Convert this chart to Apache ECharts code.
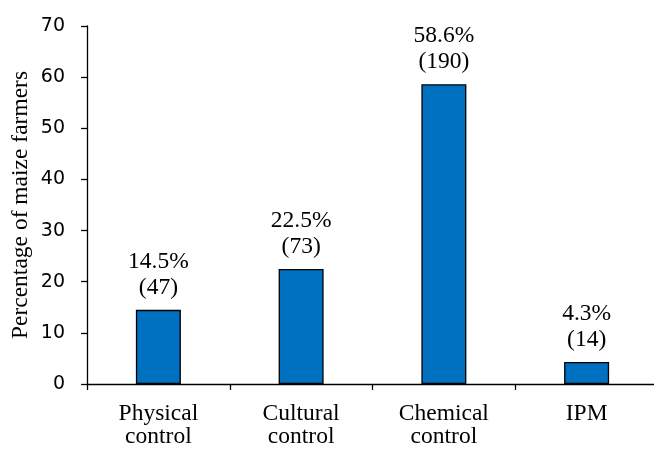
<!DOCTYPE html>
<html>
<head>
<meta charset="utf-8">
<script src="https://cdn.jsdelivr.net/npm/echarts@6/dist/echarts.min.js"></script>
<style>
  html, body { margin: 0; padding: 0; background: #fff; }
  #chart { width: 654px; height: 449px; }
</style>
</head>
<body>
<div id="chart"></div>
<script>
const categories = ['Physical\ncontrol', 'Cultural\ncontrol', 'Chemical\ncontrol', 'IPM']
const percentages = [14.5, 22.5, 58.6, 4.3]
const counts = [47, 73, 190, 14]
const yTicks = { min: 0, max: 70, interval: 10 }

const serif = '"Liberation Serif", "Times New Roman", serif'
const sans = '"DejaVu Sans", sans-serif'

const chart = echarts.init(document.getElementById('chart'), null, { renderer: 'canvas' })

chart.setOption({
  animation: false,
  grid: { left: 87, top: 26, bottom: 65, width: 571, outerBoundsMode: 'none', containLabel: false },
  xAxis: {
    type: 'category',
    data: categories,
    axisLine: { lineStyle: { color: '#000', width: 1.3 } },
    axisTick: { show: true, alignWithLabel: false, length: 6, lineStyle: { color: '#000', width: 1.3 } },
    axisLabel: {
      color: '#000',
      fontFamily: serif,
      fontSize: 23.5,
      lineHeight: 23,
      margin: 18,
      interval: 0
    }
  },
  yAxis: {
    type: 'value',
    min: yTicks.min,
    max: yTicks.max,
    interval: yTicks.interval,
    name: 'Percentage of maize farmers',
    nameLocation: 'middle',
    nameGap: 54,
    nameMoveOverlap: false,
    nameTextStyle: { color: '#000', fontFamily: serif, fontSize: 23.5 },
    axisLine: { show: true, lineStyle: { color: '#000', width: 1.3 } },
    axisTick: { show: true, length: 6, lineStyle: { color: '#000', width: 1.3 } },
    splitLine: { show: false },
    axisLabel: { color: '#000', fontFamily: sans, fontSize: 19, margin: 22 }
  },
  series: [{
    type: 'bar',
    data: percentages,
    barWidth: 45,
    itemStyle: { color: '#0070C0', borderColor: '#000', borderWidth: 1.3 },
    label: {
      show: true,
      position: 'top',
      distance: 9,
      color: '#000',
      fontFamily: serif,
      fontSize: 23.5,
      lineHeight: 26,
      formatter: p => percentages[p.dataIndex].toFixed(1) + '%\n(' + counts[p.dataIndex] + ')'
    }
  }]
})

window.addEventListener('resize', () => {
  chart.resize()
})
</script>
</body>
</html>
